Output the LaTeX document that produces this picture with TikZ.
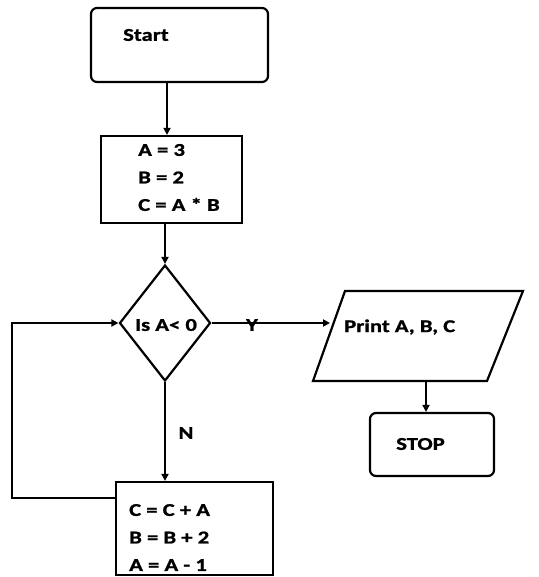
\documentclass[tikz,border=0pt]{standalone}
\usepackage{fontspec}
\setmainfont{Carlito}[FakeStretch=1.26,FakeBold=1.2]
\usetikzlibrary{shapes.geometric,arrows.meta}
\begin{document}
\begin{tikzpicture}[x=1pt,y=-1pt,
  lbl/.style={inner sep=0pt, font=\fontsize{18}{27.5}\selectfont\bfseries},
  proc/.style={draw, line width=2.2pt, inner sep=0pt, rectangle},
  term/.style={draw, line width=2.2pt, inner sep=0pt, rectangle, rounded corners=6pt},
  arr/.style={draw, line width=2.2pt, -{Triangle[length=7pt,width=7pt]}},
  ]
\useasboundingbox (0,0) rectangle (538,577);
\node[term, minimum width=177pt, minimum height=74pt] (start) at (179.5,45) {};
\node[lbl, anchor=west] (starttxt) at (123,35) {Start};
\node[proc, minimum width=141pt, minimum height=87pt] (init) at (171.5,179.5) {};
\node[lbl, anchor=west, align=left] (inittxt) at (138,177.5) {A = 3\\B = 2\\C = A * B};
\node[draw, diamond, line width=2.2pt, inner sep=0pt, minimum width=91pt, minimum height=116pt] (dec) at (165,323) {};
\node[lbl] (dectxt) at (166,325) {Is A< 0};
% parallelogram (output)
\coordinate (pTL) at (345,291);
\coordinate (pTR) at (523,291);
\coordinate (pBR) at (487,381);
\coordinate (pBL) at (313,381);
\draw[line width=2.2pt, line join=miter] (pTL) -- (pTR) -- (pBR) -- (pBL) -- cycle;
\coordinate (pin) at (330,324);
\coordinate (pout) at (426,381);
\node[lbl, anchor=west] (printtxt) at (344,327) {Print A, B, C};
\node[term, minimum width=124pt, minimum height=63pt] (stop) at (432,444.5) {};
\node[lbl] (stoptxt) at (420.5,444) {STOP};
\node[proc, minimum width=157pt, minimum height=93pt] (upd) at (194.5,528.5) {};
\node[lbl, anchor=west, align=left] (updtxt) at (129,537.5) {C = C + A\\B = B + 2\\A = A - 1};
\node[lbl] (ylbl) at (252,325) {Y};
\node[lbl] (nlbl) at (186,433) {N};
\coordinate (xa) at (167,0);
\coordinate (lp) at (12,498);
\draw[arr] (start.south -| xa) -- (init.north -| xa);
\draw[arr] (init.south -| dec.north) -- (dec.north);
\draw[arr] (dec.east) -- (dec.east -| pin);
\draw[arr] (pout) -- (stop.north -| pout);
\draw[arr] (dec.south) -- (upd.north -| dec.south);
\draw[arr] (upd.west |- lp) -- (lp) -- (lp |- dec.west) -- (dec.west);
\end{tikzpicture}
\end{document}
